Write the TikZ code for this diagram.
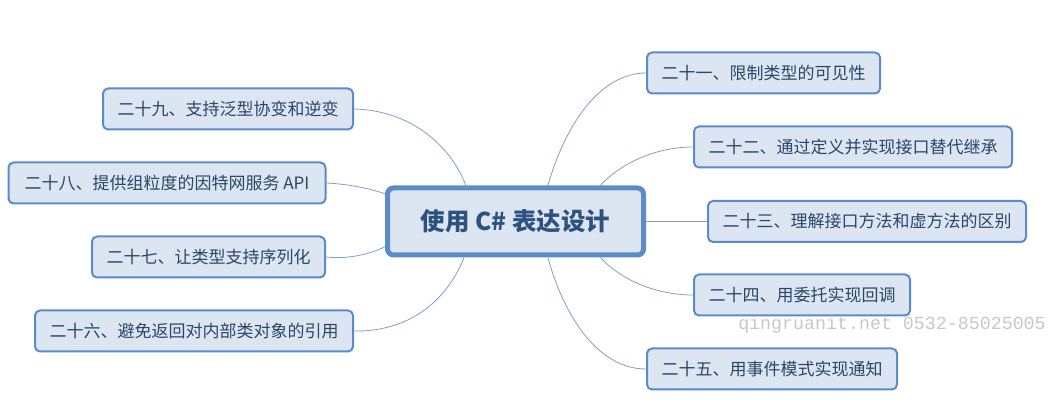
\documentclass[tikz,border=0pt]{standalone}
\usepackage{fontspec}
\setmainfont{Noto Sans CJK SC}
\newfontfamily\markfont{Liberation Mono}
\definecolor{boxfill}{HTML}{DCE6F2}
\definecolor{boxline}{HTML}{5B8BC9}
\definecolor{linkline}{HTML}{7F9FC6}
\definecolor{boxtext}{HTML}{2A4668}
\definecolor{topictext}{HTML}{2E5280}
\tikzset{
  topic/.style={draw=boxline,fill=boxfill,text=topictext,line width=5bp,rounded corners=6bp,
    minimum width=256bp,minimum height=67bp,inner sep=0pt,font=\fontsize{24.5bp}{28bp}\selectfont\bfseries},
  item/.style={draw=boxline,fill=boxfill,text=boxtext,line width=2bp,rounded corners=5bp,
    minimum height=41bp,inner xsep=14.5bp,inner ysep=0pt,font=\fontsize{17bp}{20bp}\selectfont},
  link/.style={draw=linkline,line width=.8bp},
}
\begin{document}
\begin{tikzpicture}[line join=bevel,]
%%
\useasboundingbox (0bp,0bp) rectangle (1058bp,420bp);
\node (topic) at (515.5bp,198.5bp) [topic] {使用 C\# 表达设计};
  \node (item29) at (228bp,311bp) [item] {二十九、支持泛型协变和逆变};
  \node (item28) at (167bp,237bp) [item,minimum width=317bp] {二十八、提供组粒度的因特网服务 API};
  \node (item27) at (208.5bp,163bp) [item] {二十七、让类型支持序列化};
  \node (item26) at (194bp,89bp) [item] {二十六、避免返回对内部类对象的引用};
  \node (item21) at (763.5bp,347bp) [item] {二十一、限制类型的可见性};
  \node (item22) at (853bp,273bp) [item] {二十二、通过定义并实现接口替代继承};
  \node (item23) at (867bp,198.5bp) [item] {二十三、理解接口方法和虚方法的区别};
  \node (item24) at (802bp,125bp) [item] {二十四、用委托实现回调};
  \node (item25) at (772bp,51bp) [item] {二十五、用事件模式实现通知};
  \node (mark) at (892bp,95.5bp) [text=black!22,font=\fontsize{18.3bp}{20bp}\selectfont\markfont] {qingruanit.net 0532-85025005};
  \draw [link] (topic.144.5) ..controls (448bp,280bp) and (405bp,310bp)  .. (item29.east);
  \draw [link] (topic.168.7) ..controls (365bp,233bp) and (345bp,236bp)  .. (item28.east);
  \draw [link] (topic.191.3) ..controls (365bp,164bp) and (345bp,161bp)  .. (item27.east);
  \draw [link] (topic.215.5) ..controls (445bp,115bp) and (405bp,88bp)  .. (item26.east);
  \draw [link] (topic.48.8) ..controls (565bp,295bp) and (600bp,347bp)  .. (item21.west);
  \draw [link] (topic.23.1) ..controls (620bp,256bp) and (655bp,273bp)  .. (item22.west);
  \draw [link,line width=1.2bp] (topic.east) -- (item23.west);
  \draw [link] (topic.-23.1) ..controls (620bp,141bp) and (655bp,125bp)  .. (item24.west);
  \draw [link] (topic.-48.8) ..controls (565bp,100bp) and (600bp,51bp)  .. (item25.west);
%
\end{tikzpicture}
\end{document}
